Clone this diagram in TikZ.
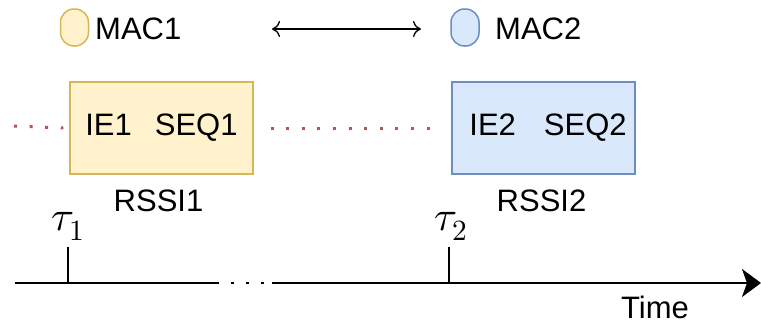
\documentclass[tikz,border=0pt]{standalone}
\usepackage{fontspec}
\usepackage{unicode-math}
\setmainfont{Liberation Sans}
\setmathfont{Latin Modern Math}
\usetikzlibrary{arrows.meta}
\definecolor{yfill}{HTML}{FFF2CC}
\definecolor{ydraw}{HTML}{D6B656}
\definecolor{bfill}{HTML}{DAE8FC}
\definecolor{bdraw}{HTML}{6C8EBF}
\definecolor{rdot}{HTML}{B85450}
\tikzset{
  txt/.style={font=\fontsize{31}{37}\selectfont, inner sep=0pt},
  mathtxt/.style={font=\fontsize{42}{48}\selectfont, inner sep=0pt},
  pill/.style={draw, line width=1.5pt, rounded corners=13.5pt, minimum width=28pt, minimum height=37pt, inner sep=0pt},
  packet/.style={draw, line width=1.3pt, minimum width=183pt, minimum height=92pt, inner sep=0pt, font=\fontsize{31}{37}\selectfont},
  reddots/.style={draw=rdot, line width=3pt, dash pattern=on 3pt off 12.6pt},
  axis/.style={line width=2pt},
}
\begin{document}
\begin{tikzpicture}[x=1pt,y=-1pt]
\useasboundingbox (0,0) rectangle (761,324);
% MAC labels
\node[pill, fill=yfill, draw=ydraw] (mac1) at (74.5,27.5) {};
\node[txt, anchor=base west] (mac1t) at (95,39) {MAC1};
\node[pill, fill=bfill, draw=bdraw] (mac2) at (465,27.5) {};
\node[txt, anchor=base west] (mac2t) at (495,39) {MAC2};
\coordinate (al) at (272,29);
\coordinate (ar) at (421,29);
\draw[line width=1.3pt, {To[length=8pt,width=16pt]}-{To[length=8pt,width=16pt]}] (al) -- (ar);
% packets
\node[packet, fill=yfill, draw=ydraw] (box1) at (161.5,128) {IE1\hspace{23pt}SEQ1};
\node[packet, fill=bfill, draw=bdraw] (box2) at (543.5,128) {\hspace{9pt}IE2\hspace{28pt}SEQ2};
\coordinate (dl) at (14,126);
\draw[reddots] (dl) -- ([xshift=-6pt]box1.west);
\draw[reddots] ([xshift=17pt]box1.east) -- ([xshift=-13pt]box2.west);
\node[txt, anchor=base] (rssi1) at (158.5,211) {RSSI1};
\node[txt, anchor=base] (rssi2) at (541.5,211) {RSSI2};
% time axis
\coordinate (ax0) at (15,283);
\coordinate (ax1) at (216,283);
\coordinate (ax2) at (272,283);
\coordinate (ax3) at (761,283);
\draw[axis] (ax0) -- (ax1);
\draw[line width=2.5pt, dash pattern=on 3pt off 12pt] (ax1) -- (265,283);
\draw[axis, -{Stealth[length=19pt,width=28pt,inset=5pt]}] (ax2) -- (ax3);
\coordinate (t1a) at (68,247);
\coordinate (t1b) at (68,283);
\coordinate (t2a) at (449,247);
\coordinate (t2b) at (449,283);
\draw[axis] (t1a) -- (t1b);
\draw[axis] (t2a) -- (t2b);
\node[mathtxt, anchor=base] (tau1) at (68,230) {$\tau_1$};
\node[mathtxt, anchor=base] (tau2) at (451,230) {$\tau_2$};
\node[txt, anchor=base] (time) at (655,318) {Time};
\end{tikzpicture}
\end{document}
